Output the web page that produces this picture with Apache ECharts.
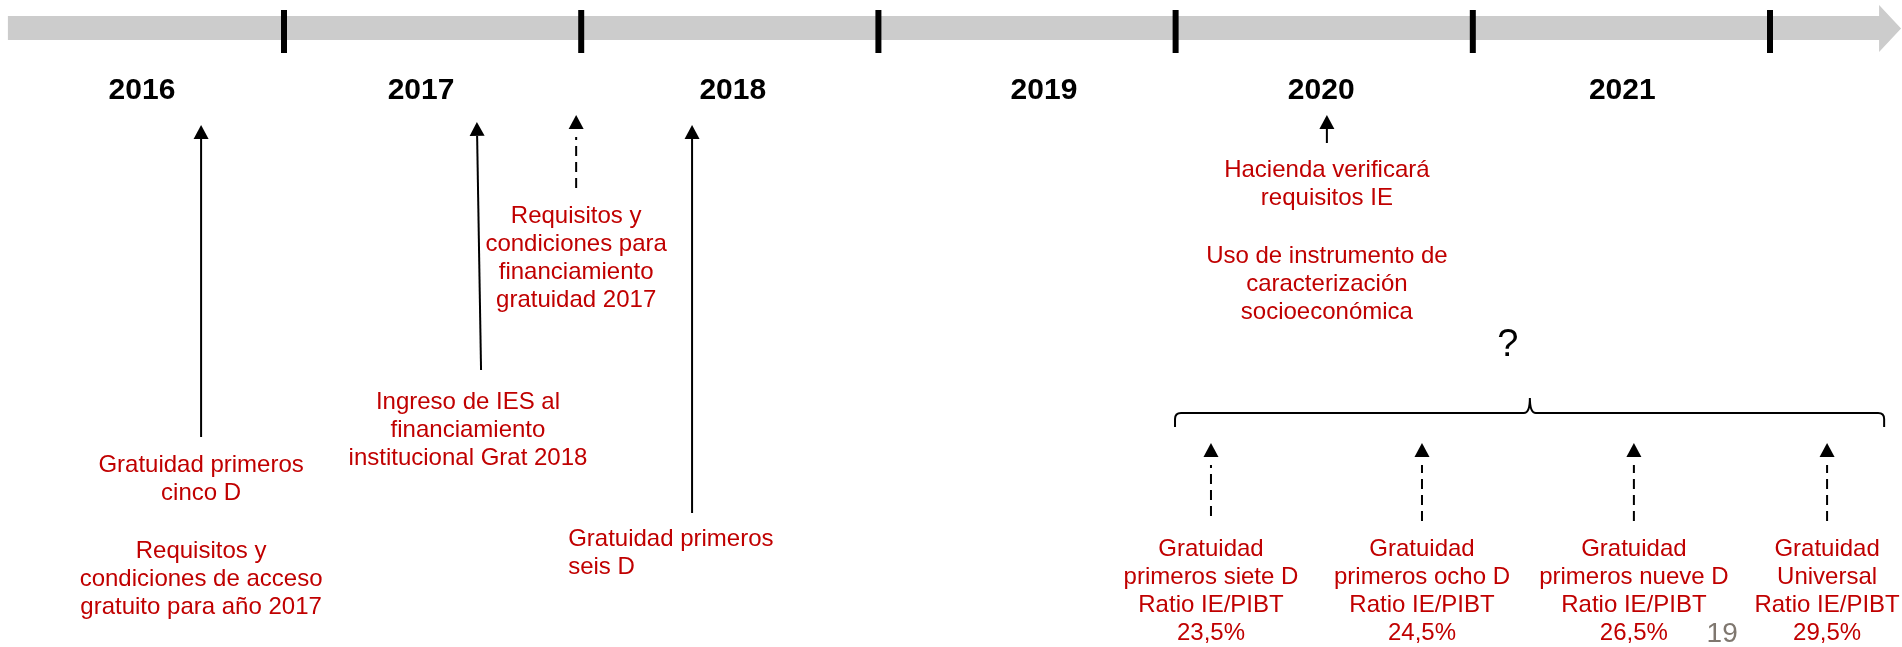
<!DOCTYPE html>
<html><head><meta charset="utf-8">
<script src="https://cdn.jsdelivr.net/npm/echarts@6/dist/echarts.min.js"></script>
<style>html,body{margin:0;padding:0;background:#fff}#c{width:1902px;height:647px}</style>
</head><body><div id="c"></div><script>
// ---- data (x in years along the timeline, y in vertical layout units from top) ----
const yearLabels = ['2016', '2017', '2018', '2019', '2020', '2021'];
const yearLabelX = [2016.522, 2017.461, 2018.51, 2019.557, 2020.49, 2021.503];
const tickYears = [2017, 2018, 2019, 2020, 2021, 2022];
const timelineX = [2016.071, 2022.367, 2022.441];   // start, arrow-head base, tip
const timelineY = [16, 40, 5, 52];                   // bar top, bar bottom, head top, head bottom
const tickY = [10, 53];

const arrowFromX = [2016.721, 2017.663, 2017.983, 2018.373, 2020.509, 2020.119, 2020.829, 2021.542, 2022.192];
const arrowFromY = [437, 370, 188, 513, 143, 516, 521, 521, 521];
const arrowToX   = [2016.721, 2017.649, 2017.983, 2018.373, 2020.509, 2020.119, 2020.829, 2021.542, 2022.192];
const arrowToY   = [125, 122, 115, 125, 115, 443, 443, 443, 443];
const arrowDashed = [0, 0, 1, 0, 0, 1, 1, 1, 1];

const noteTexts = [
  'Gratuidad primeros\ncinco D',
  'Requisitos y\ncondiciones de acceso\ngratuito para año 2017',
  'Ingreso de IES al\nfinanciamiento\ninstitucional Grat 2018',
  'Requisitos y\ncondiciones para\nfinanciamiento\ngratuidad 2017',
  'Gratuidad primeros\nseis D',
  'Hacienda verificará\nrequisitos IE',
  'Uso de instrumento de\ncaracterización\nsocioeconómica'
];
const noteX = [2016.721, 2016.721, 2017.619, 2017.983, 2017.956, 2020.509, 2020.509];
const noteTop = [451, 537, 388, 202, 525, 156, 242];
const noteAlign = ['center', 'center', 'center', 'center', 'left', 'center', 'center'];

const stageNames = ['primeros siete D', 'primeros ocho D', 'primeros nueve D', 'Universal'];
const stageRatio = [23.5, 24.5, 26.5, 29.5];
const stageX = [2020.119, 2020.829, 2021.542, 2022.192];
const stageTop = [535, 535, 535, 535];

const braceX = [2019.998, 2021.192, 2022.384];  // left end, peak, right end
const braceY = [427, 413, 398];                 // ends, line, peak
const questionX = [2021.118];
const questionTop = [326];
const pageNumber = ['19'];
const pageX = [2021.839];
const pageTop = [618];

// ---- chart ----
const RED = '#c00000';
const FONT = '"Liberation Sans", Arial, Helvetica, sans-serif';
const chart = echarts.init(document.getElementById('c'), null, {renderer: 'canvas'});

const stageTexts = stageNames.map((n, i) =>
  'Gratuidad\n' + n + '\nRatio IE/PIBT\n' + stageRatio[i].toFixed(1).replace('.', ',') + '%');

function textSeries(name, xs, tops, texts, opts) {
  return {
    type: 'custom', name, clip: false, silent: true,
    data: xs.map((x, i) => [x, tops[i]]),
    renderItem: (params, api) => {
      const p = api.coord([api.value(0), api.value(1)]);
      const i = params.dataIndex;
      return {
        type: 'text', x: p[0], y: p[1],
        style: Object.assign({
          text: texts[i],
          fontFamily: FONT,
          align: (opts.align && opts.align[i]) || 'center',
          verticalAlign: 'top'
        }, opts.style)
      };
    }
  };
}

const option = {
  animation: false,
  grid: {left: 0, right: 0, top: 0, bottom: 0},
  xAxis: {type: 'value', min: 2016.0444, max: 2022.4441, show: false},
  yAxis: {type: 'value', min: 0, max: 647, inverse: true, show: false},
  series: [
    { // timeline arrow bar
      type: 'custom', clip: false, silent: true,
      data: [[timelineX[0], timelineY[0]]],
      renderItem: (params, api) => {
        const c = (x, y) => api.coord([x, y]);
        const a = c(timelineX[0], timelineY[0]), b = c(timelineX[1], timelineY[0]);
        const d = c(timelineX[1], timelineY[2]), t = c(timelineX[2], (timelineY[2] + timelineY[3]) / 2);
        const e = c(timelineX[1], timelineY[3]), f = c(timelineX[1], timelineY[1]);
        const g = c(timelineX[0], timelineY[1]);
        return {type: 'polygon', shape: {points: [a, b, d, t, e, f, g]}, style: {fill: '#cccccc'}};
      }
    },
    { // year ticks
      type: 'custom', clip: false, silent: true,
      data: tickYears.map(y => [y, tickY[0]]),
      renderItem: (params, api) => {
        const p0 = api.coord([api.value(0), tickY[0]]);
        const p1 = api.coord([api.value(0), tickY[1]]);
        return {type: 'rect', shape: {x: p0[0] - 3, y: p0[1], width: 6, height: p1[1] - p0[1]}, style: {fill: '#000'}};
      }
    },
    textSeries('years', yearLabelX, yearLabelX.map(() => 74), yearLabels,
      {style: {fontSize: 30, fontWeight: 'bold', fill: '#000', lineHeight: 34}}),
    { // arrows
      type: 'custom', clip: false, silent: true,
      data: arrowFromX.map((x, i) => [x, arrowFromY[i], arrowToX[i], arrowToY[i], arrowDashed[i]]),
      renderItem: (params, api) => {
        const p0 = api.coord([api.value(0), api.value(1)]);
        const p1 = api.coord([api.value(2), api.value(3)]);
        const dashed = api.value(4) === 1;
        const dx = p1[0] - p0[0], dy = p1[1] - p0[1];
        const len = Math.hypot(dx, dy), ux = dx / len, uy = dy / len;
        const hl = 14, hw = 7.5;
        const bx = p1[0] - ux * hl, by = p1[1] - uy * hl;
        const lineEnd = dashed ? 8 : 0;
        return {type: 'group', children: [
          {type: 'line', shape: {x1: p0[0], y1: p0[1], x2: bx - ux * lineEnd, y2: by - uy * lineEnd},
            style: {stroke: '#000', lineWidth: 2, lineDash: dashed ? [10, 6] : null}},
          {type: 'polygon', shape: {points: [[p1[0], p1[1]], [bx - uy * hw, by + ux * hw], [bx + uy * hw, by - ux * hw]]},
            style: {fill: '#000'}}
        ]};
      }
    },
    textSeries('notes', noteX, noteTop, noteTexts,
      {align: noteAlign, style: {fontSize: 24, fill: RED, lineHeight: 28}}),
    textSeries('stages', stageX, stageTop, stageTexts,
      {style: {fontSize: 24, fill: RED, lineHeight: 28}}),
    { // brace
      type: 'custom', clip: false, silent: true,
      data: [[braceX[0], braceY[0]]],
      renderItem: (params, api) => {
        const L = api.coord([braceX[0], braceY[1]]), P = api.coord([braceX[1], braceY[2]]);
        const R = api.coord([braceX[2], braceY[1]]);
        const yEnd = api.coord([braceX[0], braceY[0]])[1];
        const yl = L[1], r = 6;
        const path = 'M' + L[0] + ' ' + yEnd +
          ' L' + L[0] + ' ' + (yl + r) +
          ' Q' + L[0] + ' ' + yl + ' ' + (L[0] + r) + ' ' + yl +
          ' L' + (P[0] - r) + ' ' + yl +
          ' Q' + P[0] + ' ' + yl + ' ' + P[0] + ' ' + P[1] +
          ' Q' + P[0] + ' ' + yl + ' ' + (P[0] + r) + ' ' + yl +
          ' L' + (R[0] - r) + ' ' + yl +
          ' Q' + R[0] + ' ' + yl + ' ' + R[0] + ' ' + (yl + r) +
          ' L' + R[0] + ' ' + yEnd;
        return {type: 'path', shape: {pathData: path}, style: {stroke: '#000', lineWidth: 2, fill: null}};
      }
    },
    textSeries('question', questionX, questionTop, ['?'],
      {style: {fontSize: 38, fill: '#000', lineHeight: 40}}),
    textSeries('page', pageX, pageTop, pageNumber,
      {style: {fontSize: 28, fill: '#7f776f', lineHeight: 32}})
  ]
};
chart.setOption(option);
</script></body></html>
